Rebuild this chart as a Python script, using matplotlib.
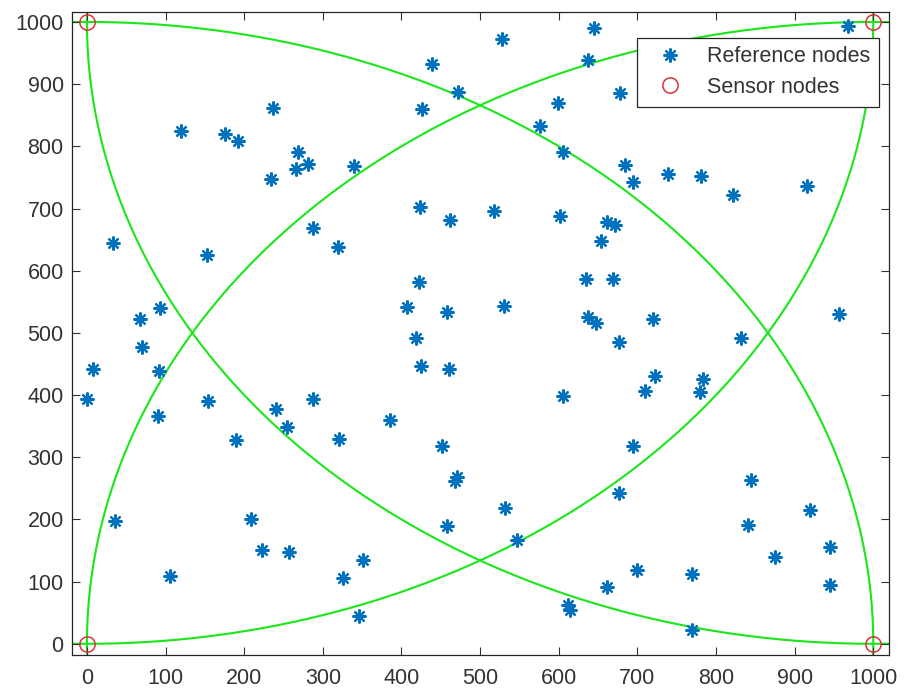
import numpy as np
import matplotlib
matplotlib.use("Agg")
import matplotlib.pyplot as plt

plt.rcParams['font.family'] = ['Liberation Sans', 'DejaVu Sans']

# reference node positions
ref_x = [237, 120, 175, 192, 234, 33, 153, 93, 67, 439,
         472, 426, 269, 281, 266, 340, 424, 462, 287, 319,
         422, 407, 458, 528, 645, 637, 678, 599, 576, 606,
         684, 695, 739, 518, 602, 662, 672, 654, 635, 669,
         530, 637, 647, 720, 968, 781, 821, 916, 957, 70,
         8, 92, 0, 154, 91, 240, 190, 36, 209, 223,
         105, 418, 425, 461, 287, 254, 386, 321, 451, 471,
         468, 458, 257, 351, 326, 346, 676, 722, 710, 606,
         695, 676, 532, 547, 700, 662, 612, 614, 832, 784,
         780, 844, 919, 841, 945, 875, 770, 945, 770]
ref_y = [861, 824, 820, 808, 748, 645, 626, 540, 522, 933,
         887, 860, 791, 772, 764, 769, 703, 681, 669, 638,
         582, 542, 534, 972, 991, 939, 885, 870, 833, 791,
         770, 743, 755, 696, 688, 678, 673, 648, 587, 586,
         544, 526, 516, 522, 994, 753, 721, 736, 530, 478,
         442, 439, 394, 391, 367, 378, 327, 197, 200, 151,
         109, 492, 447, 442, 394, 348, 360, 330, 318, 268,
         262, 190, 147, 135, 106, 44, 485, 430, 406, 398,
         318, 242, 219, 167, 118, 91, 62, 54, 492, 426,
         405, 264, 215, 191, 155, 139, 112, 94, 23]

sensor_x = [0, 0, 1000, 1000]
sensor_y = [0, 1000, 0, 1000]
radius = 1000

fig = plt.figure(figsize=(9.05, 6.96), dpi=100)
ax = fig.add_axes([72 / 905, 41 / 696, 817 / 905, 643 / 696])

theta = np.linspace(0, 2 * np.pi, 2000)
for sx, sy in zip(sensor_x, sensor_y):
    ax.plot(sx + radius * np.cos(theta), sy + radius * np.sin(theta),
            color=(0.1, 0.9, 0.1), lw=1.5, zorder=1)

ax.plot(ref_x, ref_y, linestyle='none', marker=(8, 2, 0), markersize=10,
        markeredgewidth=1.6, color='#0072BD', label='Reference nodes', zorder=3)
ax.plot(sensor_x, sensor_y, linestyle='none', marker='o', markersize=11,
        markerfacecolor='none', markeredgecolor='#D9323C', markeredgewidth=1.1,
        label='Sensor nodes', zorder=4)

ax.set_xlim(-19, 1020)
ax.set_ylim(-18, 1016)
ax.set_xticks(np.arange(0, 1001, 100))
ax.set_yticks(np.arange(0, 1001, 100))
ax.tick_params(direction='in', top=True, right=True, labelsize=15.5,
               colors='#333333', length=6)
ax.tick_params(axis='x', pad=9)
ax.tick_params(axis='y', pad=6)
for s in ax.spines.values():
    s.set_color('#262626')
    s.set_linewidth(0.9)

leg = ax.legend(loc='upper right', bbox_to_anchor=(0.988, 0.96), borderaxespad=0,
                fontsize=15.5, fancybox=False, framealpha=1, edgecolor='#262626',
                handlelength=2.2, handletextpad=0.65, borderpad=0.4,
                labelspacing=0.45)
for t in leg.get_texts():
    t.set_color('#333333')
leg.get_frame().set_linewidth(0.9)

fig.savefig('out.png', dpi=100)
